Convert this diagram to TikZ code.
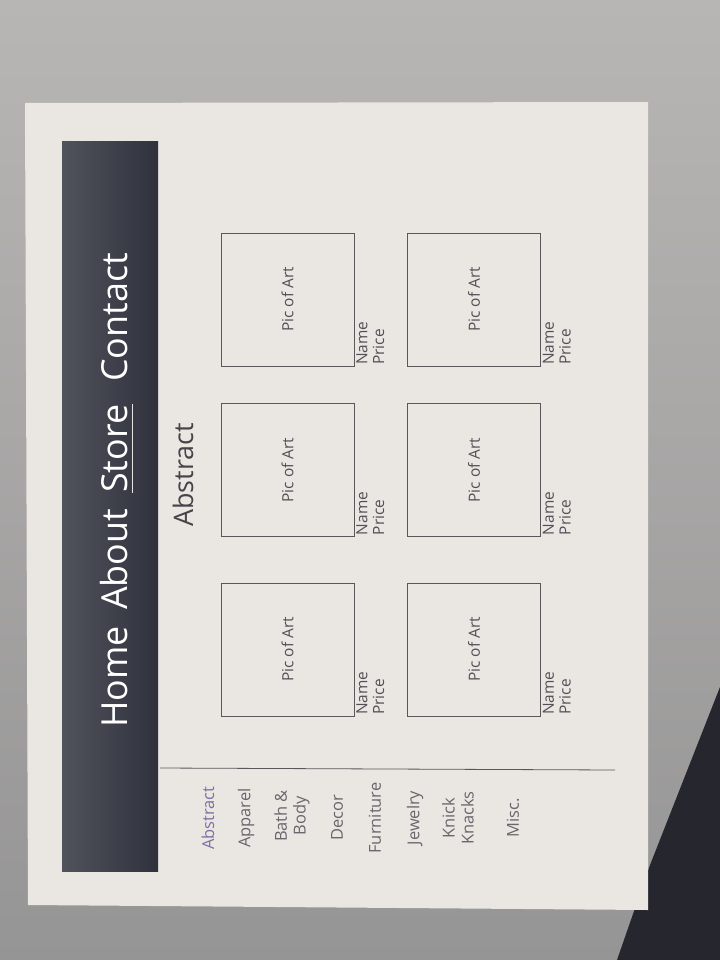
\documentclass[tikz,border=0pt]{standalone}
\usepackage{fontspec}
\setmainfont{Open Sans}
\usepackage{tikz}

\definecolor{desktop}{RGB}{184,182,181}
\definecolor{deskbot}{RGB}{150,149,149}
\definecolor{paper}{RGB}{234,231,227}
\definecolor{barlight}{RGB}{80,82,92}
\definecolor{bardark}{RGB}{47,49,60}
\definecolor{boxline}{RGB}{88,88,90}
\definecolor{ink}{RGB}{80,80,86}
\definecolor{menugray}{RGB}{104,102,108}
\definecolor{menuon}{RGB}{128,110,162}
\definecolor{cloth}{RGB}{38,38,46}

\begin{document}
\begin{tikzpicture}[x=1bp,y=-1bp,semithick]
	\tikzstyle{art}=[draw=boxline,line width=0.9bp,minimum size=133bp,inner sep=0pt,rotate=90,text=ink,font=\fontsize{15.5}{17}\selectfont]
	\tikzstyle{tag}=[rotate=90,anchor=north west,align=left,inner sep=1.5pt,text=ink,font=\fontsize{15.5}{17}\selectfont]
	\tikzstyle{menu}=[rotate=90,align=center,inner sep=0pt,text=menugray,font=\fontsize{16.5}{19}\selectfont]
	\tikzstyle{tab}=[rotate=90,anchor=base west,inner sep=0pt,text=white,font=\fontsize{36}{40}\selectfont]

	\shade[use as bounding box,top color=desktop,bottom color=deskbot] (0,0) rectangle (720,960);
	\fill[cloth] (720,687) -- (650,865) -- (617,960) -- (720,960) -- cycle;
	\fill[paper] (25,103) -- (648,102) -- (648,910) -- (28,905) -- cycle;

	\node[left color=barlight,right color=bardark,minimum width=96bp,minimum height=729bp,inner sep=0pt] (bar) at (110,506.5) {};
	\node[tab] (home) at (127,728) {Home};
	\node[tab] (about) at (127,610) {About};
	\node[tab] (store) at (127,493) {Store};
	\node[tab] (contact) at (127,382) {Contact};
	\draw[white!80!gray,line width=0.6bp] ([xshift=5bp]store.south west) -- ([xshift=5bp]store.south east);

	\node[rotate=90,inner sep=0pt,text=ink!85!black,font=\fontsize{27}{30}\selectfont] (title) at (183,475) {Abstract};

	\node[art] (art1) at (287.5,299.5) {Pic of Art};
	\node[art] (art2) at (287.5,470) {Pic of Art};
	\node[art] (art3) at (287.5,649.5) {Pic of Art};
	\node[art] (art4) at (474,299.5) {Pic of Art};
	\node[art] (art5) at (474,470) {Pic of Art};
	\node[art] (art6) at (474,649.5) {Pic of Art};

	\node[tag] (tag1) at (art1.south west) {Name\\Price};
	\node[tag] (tag2) at (art2.south west) {Name\\Price};
	\node[tag] (tag3) at (art3.south west) {Name\\Price};
	\node[tag] (tag4) at (art4.south west) {Name\\Price};
	\node[tag] (tag5) at (art5.south west) {Name\\Price};
	\node[tag] (tag6) at (art6.south west) {Name\\Price};

	\coordinate (sepL) at (160,768);
	\coordinate (sepR) at (615,770);
	\draw[boxline,line width=0.8bp] (sepL) -- (sepR);

	\node[menu,text=menuon] (abstract) at (208,818) {Abstract};
	\node[menu] (apparel) at (246,818) {Apparel};
	\node[menu] (bath) at (292,816) {Bath \&\\Body};
	\node[menu] (decor) at (337,818) {Decor};
	\node[menu] (furniture) at (375,818) {Furniture};
	\node[menu] (jewelry) at (415,818) {Jewelry};
	\node[menu] (knick) at (458,818) {Knick\\Knacks};
	\node[menu] (misc) at (513,818) {Misc.};
\end{tikzpicture}
\end{document}
